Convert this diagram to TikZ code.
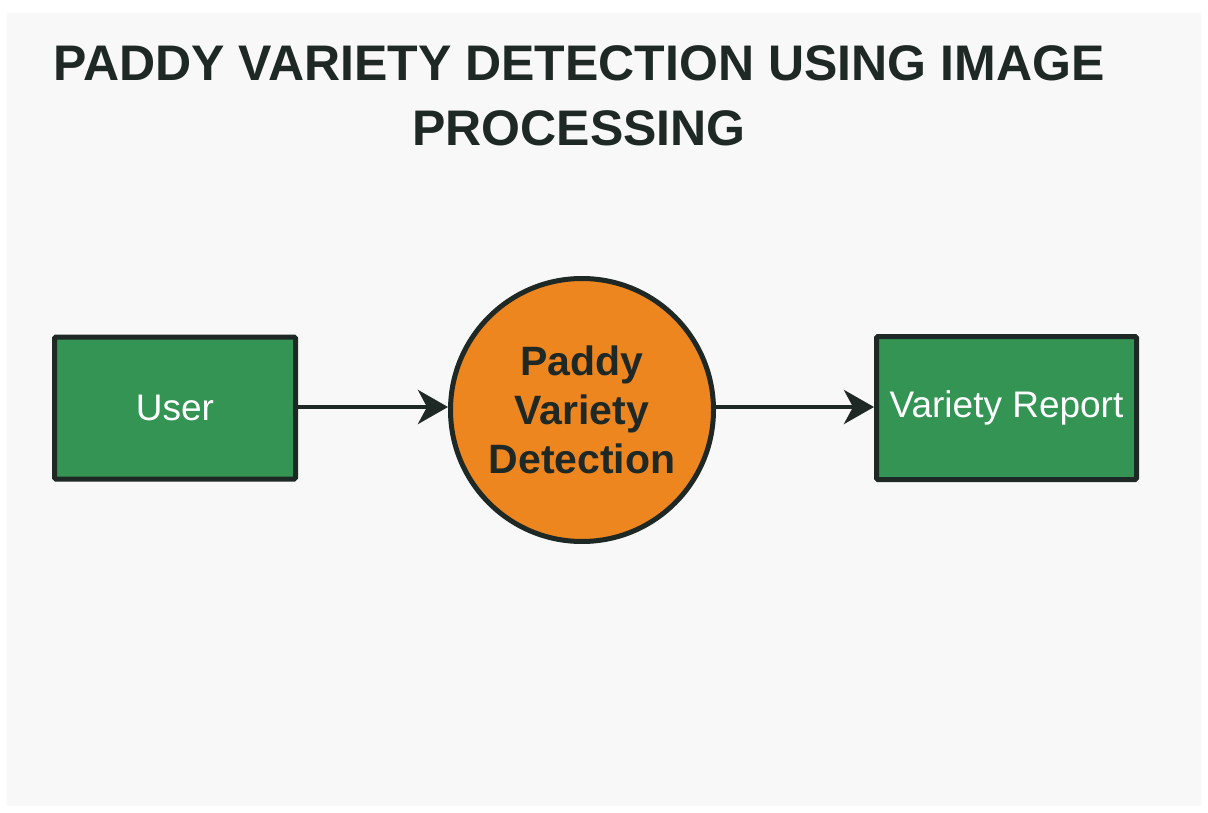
\documentclass[tikz,border=0pt]{standalone}
\usepackage{fontspec}
\setmainfont{Liberation Sans}
\usetikzlibrary{arrows.meta}
\definecolor{bgpanel}{RGB}{248,248,248}
\definecolor{ink}{RGB}{30,40,37}
\definecolor{boxgreen}{RGB}{52,148,84}
\definecolor{procorange}{RGB}{238,134,32}
\tikzset{
  entity/.style={draw=ink, line width=5pt, fill=boxgreen, rounded corners=1.5pt,
    text=white, font=\fontsize{37}{44}\selectfont, inner sep=0pt},
  process/.style={circle, draw=ink, line width=5pt, fill=procorange, text=ink,
    minimum size=263pt, inner sep=0pt, align=center,
    font=\fontsize{41}{49}\selectfont\bfseries},
  flow/.style={draw=ink, line width=4.5pt, -{Stealth[length=30pt,width=34pt,inset=9pt]}},
  titlestyle/.style={text=ink, align=center, font=\fontsize{50}{65}\selectfont\bfseries}
}
\begin{document}
\begin{tikzpicture}[x=1pt,y=-1pt]
  \useasboundingbox[fill=white] (0,0) rectangle (1208,813);
  \fill[bgpanel] (7,13) rectangle (1201,806);
  \node[titlestyle, anchor=base] (title) at (579,146) {PADDY VARIETY DETECTION USING IMAGE\\PROCESSING};
  \node[entity, minimum width=241pt, minimum height=142pt] (user) at (175,408) {User};
  \node[process] (proc) at (582,410) {Paddy\\Variety\\Detection};
  \node[entity, minimum width=260pt, minimum height=143pt] (report) at (1006.5,408) {Variety Report};
  \draw[flow] (user.east |- 0,407) -- (proc.west |- 0,407);
  \draw[flow] (proc.east |- 0,407) -- (report.west |- 0,407);
\end{tikzpicture}
\end{document}
